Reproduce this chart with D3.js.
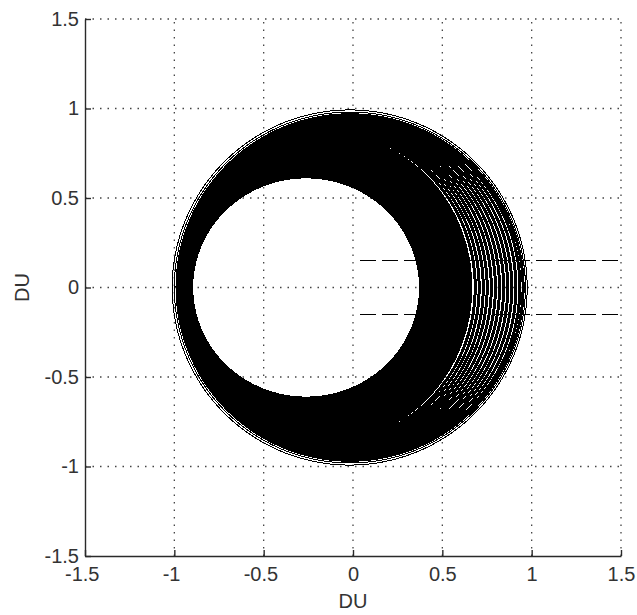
<!DOCTYPE html>
<html lang="en">
<head>
  <meta charset="UTF-8">
  <title>orbits</title>
</head>
<body>
<style>
  * {
    padding: 0;
    margin: 0;
  }

  body {
    background: #fff;
  }

  #app {
    width: 637px;
    height: 615px;
  }

  text {
    font-family: "Liberation Sans", Arial, sans-serif;
  }
</style>

<div id="app"></div>

<script src="https://cdnjs.cloudflare.com/ajax/libs/d3/7.8.5/d3.min.js"></script>
<script>
  // orbit family in DU: periapsis (right, +x), apoapsis (left, -x), half height
  let periapsis = [0.375, 0.384, 0.394, 0.404, 0.413, 0.423, 0.433, 0.443, 0.452, 0.462,
    0.472, 0.482, 0.491, 0.501, 0.511, 0.521, 0.531, 0.540, 0.550, 0.560,
    0.570, 0.580, 0.590, 0.600, 0.610, 0.620, 0.630, 0.640, 0.651, 0.662,
    0.684, 0.706, 0.729, 0.751, 0.774, 0.797, 0.820, 0.843, 0.866, 0.889,
    0.912, 0.934, 0.952, 0.965, 0.975];
  let apoapsis = [0.900, 0.902, 0.904, 0.905, 0.907, 0.909, 0.910, 0.912, 0.914, 0.915,
    0.917, 0.919, 0.920, 0.922, 0.924, 0.925, 0.927, 0.929, 0.930, 0.932,
    0.934, 0.935, 0.937, 0.939, 0.940, 0.942, 0.944, 0.945, 0.947, 0.949,
    0.951, 0.954, 0.957, 0.960, 0.963, 0.966, 0.969, 0.972, 0.975, 0.978,
    0.980, 0.983, 0.985, 1.000, 1.012];
  let halfHeight = [0.615, 0.624, 0.632, 0.640, 0.649, 0.657, 0.665, 0.674, 0.682, 0.690,
    0.699, 0.707, 0.715, 0.724, 0.732, 0.740, 0.749, 0.757, 0.765, 0.774,
    0.782, 0.790, 0.799, 0.807, 0.815, 0.824, 0.832, 0.840, 0.849, 0.857,
    0.866, 0.874, 0.882, 0.890, 0.898, 0.906, 0.914, 0.922, 0.930, 0.938,
    0.946, 0.956, 0.965, 0.980, 0.992];

  // dashed lines
  let dashY = [0.15, -0.15];
  let dashX = [0.04, 1.5];

  let ticks = [-1.5, -1, -0.5, 0, 0.5, 1, 1.5];

  let $width = 637, $height = 615;
  let $left = 85, $right = 621, $top = 19, $bottom = 556;

  let x = d3.scaleLinear().domain([-1.5, 1.5]).range([$left, $right]);
  let y = d3.scaleLinear().domain([-1.5, 1.5]).range([$bottom, $top]);

  let svg = d3.select("#app").append("svg").attr("width", $width).attr("height", $height);

  // dotted grid
  let grid = svg.append("g").attr("stroke", "#444").attr("stroke-width", 1.3)
    .attr("stroke-dasharray", "1.5,6");
  grid.selectAll(".gx").data(ticks.slice(1)).enter().append("line")
    .attr("x1", d => x(d)).attr("x2", d => x(d)).attr("y1", $bottom).attr("y2", $top);
  grid.selectAll(".gy").data(ticks.slice(1)).enter().append("line")
    .attr("y1", d => y(d)).attr("y2", d => y(d)).attr("x1", $left).attr("x2", $right);

  // orbits
  let line = d3.line().x(d => x(d[0])).y(d => y(d[1])).curve(d3.curveLinearClosed);
  let orbit = function (rp, i) {
    let a = (rp + apoapsis[i]) / 2, c = (rp - apoapsis[i]) / 2, b = halfHeight[i];
    return d3.range(0, 360, 1).map(function (t) {
      let r = t * Math.PI / 180;
      return [c + a * Math.cos(r), b * Math.sin(r)];
    });
  };

  let n = periapsis.length;
  svg.append("g").selectAll("path").data(periapsis).enter().append("path")
    .attr("d", (d, i) => line(orbit(d, i)))
    .attr("fill", "none").attr("stroke", "#000")
    .attr("stroke-width", (d, i) => i >= n - 2 ? 1 : (i >= 30 ? 3 : 2))
    .attr("shape-rendering", "crispEdges");

  // dashed lines
  svg.append("g").selectAll("line").data(dashY).enter().append("line")
    .attr("x1", x(dashX[0])).attr("x2", x(dashX[1]))
    .attr("y1", d => y(d)).attr("y2", d => y(d))
    .attr("stroke", "#000").attr("stroke-width", 1.6)
    .attr("stroke-dasharray", "16,6").attr("shape-rendering", "crispEdges");

  // axes
  let fmt = d => String(d);
  let ax = svg.append("g").attr("transform", "translate(0," + $bottom + ")")
    .call(d3.axisBottom(x).tickValues(ticks).tickFormat(fmt).tickSizeInner(-6).tickSizeOuter(0).tickPadding(11));
  let ay = svg.append("g").attr("transform", "translate(" + $left + ",0)")
    .call(d3.axisLeft(y).tickValues(ticks).tickFormat(fmt).tickSizeInner(-6).tickSizeOuter(0).tickPadding(6));

  svg.selectAll(".domain, .tick line").attr("stroke", "#2a2a2a").attr("stroke-width", 1.4);
  svg.selectAll(".tick text").attr("font-size", "20px").attr("fill", "#333")
    .attr("font-family", '"Liberation Sans", Arial, sans-serif');
  ax.selectAll(".tick text").attr("dx", d => d < 0 ? -3.3 : 0);

  // axis titles
  svg.append("text").text("DU").attr("x", x(0)).attr("y", 608)
    .attr("text-anchor", "middle").attr("font-size", "20px").attr("fill", "#333");
  svg.append("text").text("DU").attr("transform", "translate(29," + y(0) + ") rotate(-90)")
    .attr("text-anchor", "middle").attr("font-size", "20px").attr("fill", "#333");
</script>
</body>
</html>
